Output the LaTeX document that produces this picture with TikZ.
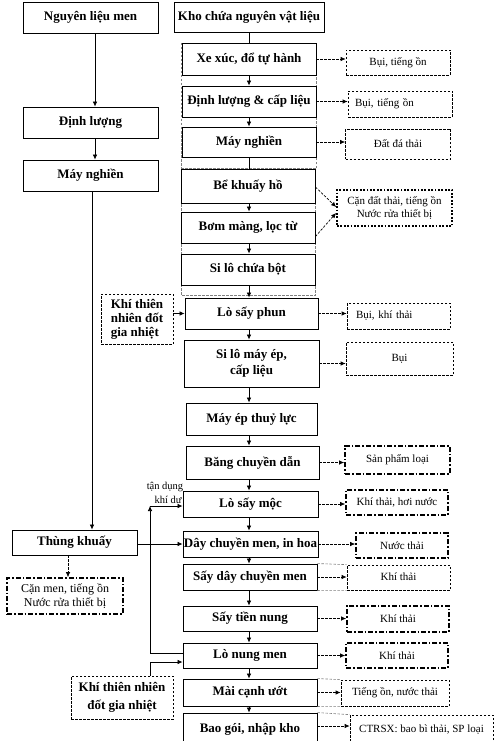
\documentclass[tikz,border=0pt]{standalone}
\usepackage{fontspec}
\setmainfont{Liberation Serif}
\usetikzlibrary{arrows.meta,calc}
\begin{document}
\begin{tikzpicture}[x=1pt,y=-1pt,
  wh/.style 2 args={minimum width=#1pt, minimum height=#2pt},
  mainbox/.style={draw, line width=0.9pt, inner sep=0pt, align=center, font=\fontsize{13}{15}\selectfont\bfseries},
  sidebox/.style={inner sep=0pt, align=center, font=\fontsize{11}{13.5}\selectfont},
  dashbox/.style={sidebox, draw, line width=0.7pt, dash pattern=on 2.5pt off 1.5pt},
  dotbox/.style={sidebox, draw, line width=1.8pt, dash pattern=on 1.8pt off 1.6pt},
  ddbox/.style={sidebox, draw, line width=1.6pt, dash pattern=on 5pt off 2pt on 1.6pt off 2pt},
  arr/.style={-{Latex[length=5pt,width=4.5pt]}, line width=0.7pt},
  darr/.style={arr, dash pattern=on 2.5pt off 1.5pt},
  plain/.style={line width=0.7pt},
  encl/.style={draw=gray, line width=0.6pt, dash pattern=on 2.5pt off 1.5pt},
  smalltxt/.style={inner sep=0pt, font=\fontsize{10.5}{12}\selectfont},
  ]
\fill[white] (0,0) rectangle (497,741);
\useasboundingbox (0,0) rectangle (497,741);

% gray dashed enclosures
\draw[encl] (181.5,43) rectangle (316.5,168);
\draw[encl] (181,168) rectangle (315.5,295);

% main column
\node[mainbox, wh={150}{30}] (kho) at (249,17) {Kho chứa nguyên vật liệu};
\node[mainbox, wh={134}{32}] (xe) at (249,59) {Xe xúc, đổ tự hành};
\node[mainbox, wh={134}{31}] (dlr) at (249,101.5) {Định lượng \& cấp liệu};
\node[mainbox, wh={134}{30}] (mnr) at (249,142) {Máy nghiền};
\node[mainbox, wh={134}{34}] (be) at (248,186) {Bể khuấy hồ};
\node[mainbox, wh={134}{31}] (bom) at (248,227.5) {Bơm màng, lọc từ};
\node[mainbox, wh={134}{31}] (silo) at (248,269.5) {Si lô chứa bột};
\node[mainbox, wh={133}{31}] (phun) at (251.5,313.5) {Lò sấy phun};
\node[mainbox, wh={135}{47}, font=\fontsize{13}{16.5}\selectfont\bfseries] (siloep) at (251.5,363.5) {Si lô máy ép,\\cấp liệu};
\node[mainbox, wh={131}{32}] (mayep) at (251.5,419) {Máy ép thuỷ lực};
\node[mainbox, wh={133}{33}] (bang) at (252.5,462.5) {Băng chuyền dẫn};
\node[mainbox, wh={135}{26}] (moc) at (250.5,504) {Lò sấy mộc};
\node[mainbox, wh={135}{26}] (day) at (250.5,544) {Dây chuyền men, in hoa};
\node[mainbox, wh={134}{26}] (saydc) at (250,577) {Sấy dây chuyền men};
\node[mainbox, wh={134}{25}] (tien) at (250,618.5) {Sấy tiền nung};
\node[mainbox, wh={134}{25}] (nung) at (250,655.5) {Lò nung men};
\node[mainbox, wh={134}{27}] (mai) at (250,692.5) {Mài cạnh ướt};
\node[mainbox, wh={134}{32}] (bao) at (250,729) {\raisebox{3pt}{Bao gói, nhập kho}};

% left column
\node[mainbox, wh={135}{31}] (nlm) at (90.5,17.5) {Nguyên liệu men};
\node[mainbox, wh={135}{31}] (dll) at (90.5,122.5) {Định lượng};
\node[mainbox, wh={135}{31}] (mnl) at (90.5,175.5) {Máy nghiền};
\node[mainbox, wh={125}{25}] (thung) at (74.5,542.5) {Thùng khuấy};
\node[ddbox, wh={116}{36}, font=\fontsize{12}{14.3}\selectfont] (camen) at (65,596) {Cặn men, tiếng ồn\\Nước rửa thiết bị};
\node[dashbox, wh={72}{50}, align=left, font=\fontsize{13}{14}\selectfont\bfseries] (ktn1) at (137,319) {Khí thiên\\nhiên đốt\\gia nhiệt};
\node[dashbox, wh={102}{43}, font=\fontsize{13}{18}\selectfont\bfseries] (ktn2) at (122,697.5) {Khí thiên nhiên\\đốt gia nhiệt};
\node[smalltxt] (td1) at (165,487) {tận dụng};
\node[smalltxt] (td2) at (168,500) {khí dư};

% right side boxes
\node[dashbox, wh={104}{25}] (r1) at (398,62.5) {Bụi, tiếng ồn};
\node[dashbox, wh={104}{26}, inner xsep=7pt, text width=90pt, align=left] (r2) at (400,104) {Bụi, tiếng ồn};
\node[dashbox, wh={105}{30}] (r3) at (398,144) {Đất đá thải};
\node[dotbox, wh={115}{36}] (r4) at (394.5,208) {Cặn đất thải, tiếng ồn\\Nước rửa thiết bị};
\node[dashbox, wh={103}{26}, inner xsep=9pt, text width=85pt, align=left] (r5) at (398.5,316) {Bụi, khí thải};
\node[dashbox, wh={107}{33}] (r6) at (399.5,358.5) {Bụi};
\node[ddbox, wh={105}{28}] (r7) at (397.5,460) {Sản phẩm loại};
\node[ddbox, wh={102}{25}] (r8) at (397,502.5) {Khí thải, hơi nước};
\node[ddbox, wh={92}{25}] (r9) at (402,545.5) {Nước thải};
\node[dashbox, wh={103}{25}] (r10) at (398.5,577.5) {\raisebox{2pt}{Khí thải}};
\node[ddbox, wh={102}{26}] (r11) at (398,619) {Khí thải};
\node[ddbox, wh={102}{25}] (r12) at (397,655.5) {Khí thải};
\node[dashbox, wh={108}{26}] (r13) at (395,693) {Tiếng ồn, nước thải};
\node[dashbox, wh={143}{34}] (r14) at (421.5,732) {\raisebox{6pt}{CTRSX: bao bì thải, SP loại}};

% main column connectors
\coordinate (cx) at (249,0);
\draw[plain] (kho.south -| cx) -- (xe.north -| cx);
\draw[arr] (xe.south -| cx) -- (dlr.north -| cx);
\draw[arr] (dlr.south -| cx) -- (mnr.north -| cx);
\draw[plain] (mnr.south -| cx) -- (be.north -| cx);
\draw[arr] (be.south -| cx) -- (bom.north -| cx);
\draw[arr] (bom.south -| cx) -- (silo.north -| cx);
\draw[arr] (silo.south -| cx) -- (phun.north -| cx);
\draw[arr] (phun.south -| cx) -- (siloep.north -| cx);
\draw[arr] (siloep.south -| cx) -- (mayep.north -| cx);
\draw[arr] (mayep.south -| cx) -- (bang.north -| cx);
\draw[arr] (bang.south -| cx) -- (moc.north -| cx);
\draw[arr] (moc.south -| cx) -- (day.north -| cx);
\draw[arr] (day.south -| cx) -- (saydc.north -| cx);
\draw[arr] (saydc.south -| cx) -- (tien.north -| cx);
\draw[arr] (tien.south -| cx) -- (nung.north -| cx);
\draw[arr] (nung.south -| cx) -- (mai.north -| cx);
\draw[arr] (mai.south -| cx) -- (bao.north -| cx);

% left column connectors
\coordinate (lx) at (95,0);
\draw[arr] (nlm.south -| lx) -- (dll.north -| lx);
\draw[arr] (dll.south -| lx) -- (mnl.north -| lx);
\coordinate (lx2) at (92,0);
\draw[arr] (mnl.south -| lx2) -- (thung.north -| lx2);
\draw[arr] (thung.east |- day.west) -- (day.west);
\coordinate (cmx) at (68,0);
\draw[darr] (thung.south -| cmx) -- (camen.north -| cmx);
\draw[arr] (ktn1.east |- phun.west) -- (phun.west);
\coordinate (tdc) at (150,506);
\draw[arr] ([yshift=2.5pt]nung.west) -| (tdc);
\draw[arr] (tdc) -- (tdc -| moc.west);
\coordinate (k2x) at (150,0);
\draw[arr] (ktn2.north -| k2x) |- ([yshift=-6.5pt]nung.west);

% side connectors
\draw[darr] (xe.east) -- (xe.east -| r1.west);
\draw[darr] (dlr.east) -- (dlr.east -| r2.west);
\draw[darr] (mnr.east) -- (mnr.east -| r3.west);
\draw[darr] ([yshift=-1pt]be.east) -- ([yshift=1pt]r4.west);
\draw[darr] ([yshift=-9pt]bom.east) -- ([yshift=-5pt]r4.west);
\draw[darr] (phun.east) -- (phun.east -| r5.west);
\draw[darr] (siloep.east) -- (siloep.east -| r6.west);
\draw[darr] (bang.east) -- (bang.east -| r7.west);
\draw[darr] (moc.east) -- (moc.east -| r8.west);
\draw[darr] (day.east) -- (day.east -| r9.west);
\draw[darr] (saydc.east) -- (saydc.east -| r10.west);
\draw[darr] (tien.east) -- (tien.east -| r11.west);
\draw[darr] (nung.east) -- (nung.east -| r12.west);
\draw[darr] (mai.east) -- (mai.east -| r13.west);
\draw[darr] ([yshift=3pt]bao.east) -- ([yshift=3pt]bao.east -| r14.west);

% gray dashed links
\draw[encl] (saydc.north east) -- (r10.north west);
\draw[encl] (saydc.south east) -- (r10.south west);
\draw[encl] (mai.north east) -- (r13.north west);
\draw[encl] (mai.south east) -- (r13.south west);
\draw[encl] (bao.north east) -- (r14.north west);
\end{tikzpicture}
\end{document}
